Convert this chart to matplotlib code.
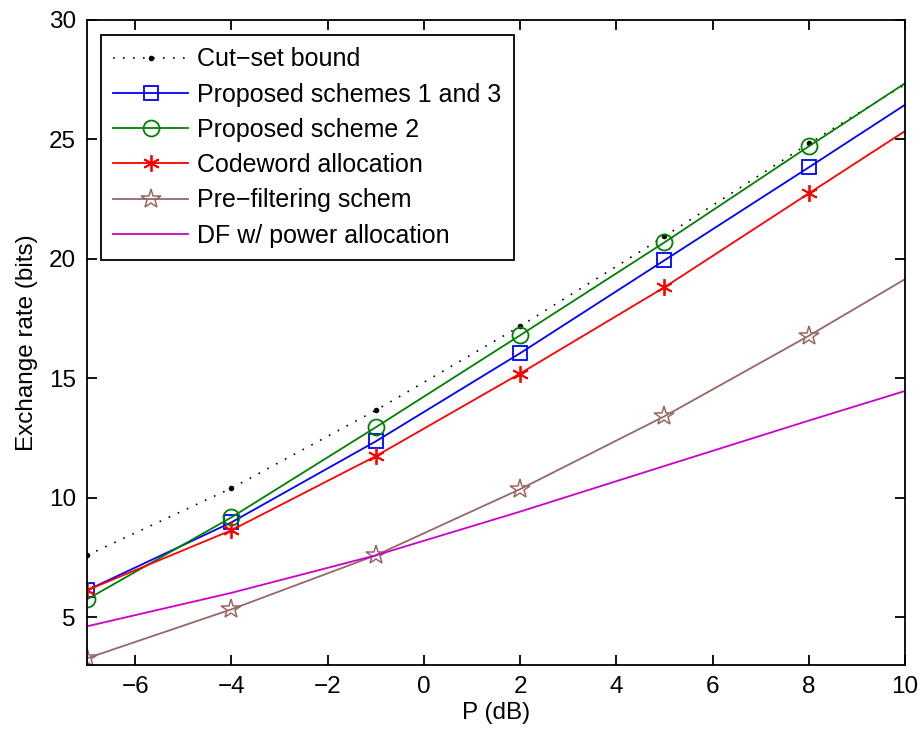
import numpy as np
import matplotlib.pyplot as plt

plt.rcParams['font.family'] = ['Liberation Sans', 'DejaVu Sans']

# P in dB, markers only at the first six points
p_db = [-7, -4, -1, 2, 5, 8, 10]

cut_set = [7.59, 10.40, 13.66, 17.18, 20.94, 24.83, 27.30]
scheme13 = [6.13, 8.97, 12.36, 16.05, 19.94, 23.83, 26.45]
scheme2 = [5.75, 9.18, 12.95, 16.80, 20.69, 24.71, 27.35]
codeword = [6.13, 8.64, 11.74, 15.20, 18.81, 22.74, 25.35]
prefilter = [3.28, 5.33, 7.59, 10.36, 13.41, 16.78, 19.15]
df_power = [4.62, 6.02, 7.59, 9.42, 11.33, 13.23, 14.47]

labels = ["Cut\u2212set bound", "Proposed schemes 1 and 3", "Proposed scheme 2",
          "Codeword allocation", "Pre\u2212filtering schem", "DF w/ power allocation"]

mk = [0, 1, 2, 3, 4, 5]

fig = plt.figure(figsize=(9.22, 7.37), dpi=100)
ax = fig.add_axes([0.0944, 0.0977, 0.8872, 0.8752])

ax.plot(p_db, cut_set, color='k', linestyle=(0, (1, 5)), lw=1.2, marker='.',
        markersize=6, markevery=mk, label=labels[0])
ax.plot(p_db, scheme13, color='b', lw=1.3, marker='s', markersize=10,
        mfc='none', mew=1.3, markevery=mk, label=labels[1])
ax.plot(p_db, scheme2, color='#008000', lw=1.3, marker='o', markersize=11.5,
        mfc='none', mew=1.3, markevery=mk, label=labels[2])
ax.plot(p_db, codeword, color='r', lw=1.3, marker=(6, 2, 0), markersize=12,
        mew=1.3, markevery=mk, label=labels[3])
ax.plot(p_db, prefilter, color='#996666', lw=1.3, marker='*', markersize=15,
        mfc='none', mew=1.1, markevery=mk, label=labels[4])
ax.plot(p_db, df_power, color='#cc00cc', lw=1.3, label=labels[5])

ax.set_xlim(-7, 10)
ax.set_ylim(3, 30)
ax.set_xticks(np.arange(-6, 11, 2))
ax.set_xticklabels(['\u22126', '\u22124', '\u22122', '0', '2', '4', '6', '8', '10'])
ax.set_yticks([5, 10, 15, 20, 25, 30])
ax.tick_params(direction='in', length=7, width=1.3, top=True, right=True,
               labelsize=17.5, pad=8)
for s in ax.spines.values():
    s.set_linewidth(1.3)

ax.set_xlabel("P (dB)", fontsize=17.5, labelpad=3)
ax.set_ylabel("Exchange rate (bits)", fontsize=17.5, labelpad=8)

leg = ax.legend(loc='upper left', bbox_to_anchor=(0.017, 0.977), borderaxespad=0,
                fontsize=18, handlelength=3.0, handletextpad=0.35, labelspacing=0.45,
                borderpad=0.5, fancybox=False, edgecolor='k', framealpha=1, numpoints=1)
leg.get_frame().set_linewidth(1.3)

fig.savefig("out.png", dpi=100)
